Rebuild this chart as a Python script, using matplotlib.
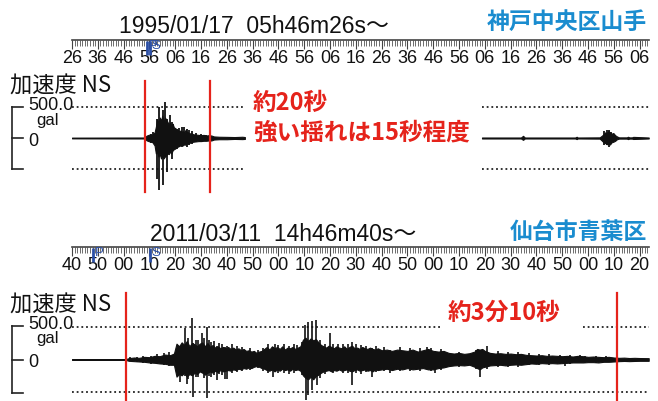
import numpy as np
import matplotlib as mpl
mpl.use('Agg')
import matplotlib.pyplot as plt
from matplotlib.ticker import FixedLocator, MultipleLocator
from matplotlib.lines import Line2D

plt.rcParams['font.family'] = ['Liberation Sans', 'Noto Sans CJK JP']

W, H = 658, 401

# ---- data (time in s from record start, acceleration in gal) ----
top_title = "1995/01/17  05h46m26s〜"
top_site = "神戸中央区山手"
top_labels = ['26', '36', '46', '56', '06', '16', '26', '36', '46', '56', '06', '16',
              '26', '36', '46', '56', '06', '16', '26', '36', '46', '56', '06']
top_p, top_s = 29.2, 30.2
top_marks = [28.1, 53.3]
top_note = ["約20秒", "強い揺れは15秒程度"]

top_t1 = [0, 28, 29, 30, 31, 32, 32.5, 33, 33.5, 34, 34.5, 35, 35.5, 36, 36.5, 37, 37.5, 38,
          38.5, 39, 39.5, 40, 40.5, 41, 41.5, 42, 42.5, 43, 43.5, 44, 44.5, 45, 45.5, 46, 47,
          48, 49, 50, 51, 52, 53, 54, 55, 57, 60, 63, 66, 67]
top_hi1 = [6, 8, 40, 55, 50, 90, 180, 300, 240, 330, 280, 360, 250, 330, 300, 260, 220, 250,
           200, 230, 170, 160, 140, 130, 110, 120, 100, 110, 90, 130, 100, 90, 70, 80, 60,
           55, 50, 45, 50, 40, 45, 40, 25, 20, 18, 15, 20, 15]
top_lo1 = [-6, -8, -40, -55, -60, -120, -250, -220, -300, -260, -330, -290, -330, -300, -280,
           -250, -260, -220, -250, -200, -180, -170, -150, -140, -130, -120, -110, -120, -100,
           -110, -90, -90, -80, -70, -60, -55, -50, -50, -45, -45, -40, -40, -25, -20, -20,
           -15, -18, -15]
top_t2 = [158.9, 174, 174.8, 175.5, 195, 195.6, 196, 204.5, 205.3, 206, 206.6, 207.2, 207.9,
          208.5, 209.1, 209.8, 210.5, 211.2, 212, 215, 215.5, 216, 217, 217.5, 223.5]
top_hi2 = [8, 8, 35, 8, 8, 20, 8, 10, 35, 60, 90, 80, 110, 90, 70, 80, 45, 25, 10, 10, 20, 10,
           10, 18, 8]
top_lo2 = [-8, -8, -30, -8, -8, -18, -8, -10, -40, -70, -80, -100, -95, -105, -70, -60, -45,
           -20, -10, -10, -18, -10, -10, -16, -8]
top_spk_t = [30.5, 31.5, 32.8, 33.9, 35.2, 36.1, 37.0, 38.0, 38.7, 39.3, 40.7, 41.5, 42.5,
             43.3, 44.6, 45.5, 46.5, 48.0, 50.0, 52.0, 53.5, 206.3, 207.5, 208.2, 209.0]
top_spk_hi = [70, 90, 312, 500, 446, 580, 300, 366, 250, 231, 150, 160, 170, 177, 150, 130,
              110, 80, 60, 55, 60, 110, 124, 130, 100]
top_spk_lo = [-80, -80, -656, -844, -763, -300, -548, -250, -333, -199, -172, -150, -140,
              -118, -150, -110, -90, -70, -60, -50, -55, -120, -118, -140, -90]

bot_title = "2011/03/11  14h46m40s〜"
bot_site = "仙台市青葉区"
bot_labels = ['40', '50', '00', '10', '20', '30', '40', '50', '00', '10', '20', '30',
              '40', '50', '00', '10', '20', '30', '40', '50', '00', '10', '20']
bot_p, bot_s = 8.3, 30.2
bot_marks = [20.8, 211.4]
bot_note = "約3分10秒"

bot_t = [0, 20.8, 22, 24, 26, 28, 30, 32, 34, 36, 38, 39.5, 40.5, 41.5, 42.5, 43.5, 44.5,
         45.5, 46.5, 47.5, 48.5, 49.5, 50.5, 51.5, 52.5, 53.5, 54.5, 55.5, 56.5, 57.5, 58.5,
         59.5, 60.5, 61.5, 62.5, 63.5, 64.5, 65.5, 66.5, 67.5, 68.5, 69.5, 70.5, 71.5, 72.5,
         73.5, 74.5, 75.5, 76.5, 77.5, 78.5, 79.5, 80.5, 81.5, 82.5, 83.5, 84.5, 85.5, 86.5,
         87.5, 88.5, 89.5, 90.5, 91.5, 92.5, 93.5, 94.5, 95.5, 96.5, 97.5, 98.5, 99.5, 100.5,
         101.5, 102.5, 103.5, 104.5, 105.5, 106.5, 107.5, 108.5, 109.5, 110.5, 111.5, 112.5,
         113.5, 114.5, 115.5, 116.5, 117.5, 118.5, 120, 122, 124, 126, 128, 130, 132, 134,
         136, 138, 140, 142, 144, 146, 148, 150, 152, 154, 156, 157, 158, 159, 160, 162, 164,
         166, 168, 170, 172, 174, 176, 178, 180, 182, 184, 186, 188, 190, 192, 194, 196, 198,
         200, 202, 204, 206, 208, 210, 212, 214, 216, 218, 220, 223.5]
bot_hi = [5, 6, 20, 30, 25, 40, 35, 55, 50, 75, 65, 90, 240, 200, 260, 220, 280, 200, 250,
          230, 200, 240, 260, 200, 250, 190, 220, 180, 200, 170, 190, 170, 190, 160, 180, 150,
          170, 140, 160, 130, 140, 120, 130, 100, 120, 130, 160, 190, 150, 200, 170, 190, 160,
          200, 150, 180, 170, 190, 160, 180, 200, 300, 330, 280, 320, 290, 310, 260, 220, 200,
          180, 210, 190, 170, 200, 180, 170, 200, 160, 190, 210, 170, 180, 160, 190, 170, 160,
          180, 160, 150, 170, 140, 150, 130, 150, 140, 130, 150, 120, 140, 160, 130, 120, 130,
          100, 90, 100, 85, 95, 120, 160, 150, 160, 130, 100, 90, 95, 85, 90, 80, 85, 70, 65,
          60, 65, 55, 60, 55, 50, 55, 45, 55, 50, 40, 45, 40, 35, 40, 30, 25, 28, 22, 25, 22,
          20]
bot_lo = [-5, -6, -20, -25, -30, -35, -45, -50, -60, -65, -80, -80, -260, -220, -240, -200,
          -260, -220, -240, -200, -220, -180, -200, -230, -200, -180, -200, -170, -190, -160,
          -180, -170, -160, -170, -150, -160, -140, -150, -130, -140, -120, -130, -110, -100,
          -110, -130, -140, -160, -170, -150, -180, -150, -170, -140, -160, -150, -170, -140,
          -160, -150, -170, -240, -280, -300, -260, -300, -250, -230, -200, -180, -170, -160,
          -180, -160, -170, -150, -170, -160, -150, -170, -180, -160, -150, -170, -160, -150,
          -170, -160, -180, -150, -160, -150, -140, -160, -140, -150, -130, -150, -140, -130,
          -150, -150, -130, -120, -100, -90, -85, -90, -80, -110, -130, -150, -120, -110, -90,
          -85, -80, -90, -80, -75, -80, -70, -60, -65, -55, -60, -55, -60, -55, -50, -45, -45,
          -45, -40, -40, -45, -35, -35, -30, -25, -22, -25, -22, -20, -20]
bot_spk_t = [22.5, 25.0, 27.5, 30.5, 33.0, 35.5, 37.5, 41.9, 43.8, 44.5, 45.0, 46.4, 47.0,
             48.0, 49.0, 50.3, 51.0, 52.2, 53.0, 54.0, 55.0, 56.1, 57.0, 58.0, 59.3, 60.0,
             62.0, 64.0, 66.0, 69.0, 72.0, 74.0, 76.0, 78.0, 78.7, 80.0, 82.0, 84.0, 86.0,
             87.1, 89.0, 90.3, 90.7, 91.6, 92.9, 93.1, 94.5, 94.8, 96.0, 98.0, 100.0, 101.0,
             103.2, 105.0, 107.0, 108.4, 110.0, 112.0, 114.0, 116.2, 118.0, 121.0, 123.3,
             127.0, 131.0, 135.0, 137.5, 139.0, 140.7, 143.0, 150.0, 156.5, 158.1, 161.0,
             165.0, 169.0, 173.0, 177.0, 181.0, 185.0, 189.0, 191.1, 193.0, 196.9, 199.0,
             203.0, 207.0]
bot_spk_hi = [35, 45, 55, 60, 80, 100, 110, 200, 470, 250, 330, 630, 250, 300, 290, 394, 320,
              495, 300, 260, 280, 200, 250, 230, 190, 200, 230, 210, 190, 170, 150, 180, 230,
              190, 242, 220, 240, 210, 230, 220, 260, 520, 300, 570, 586, 300, 596, 250, 290,
              230, 394, 240, 240, 240, 230, 268, 230, 220, 210, 180, 200, 190, 140, 190, 180,
              170, 192, 170, 130, 160, 120, 150, 150, 200, 130, 120, 115, 100, 90, 80, 75, 55,
              70, 68, 60, 55, 50]
bot_spk_lo = [-30, -45, -50, -65, -70, -90, -100, -340, -250, -364, -290, -200, -565, -270,
              -260, -200, -280, -590, -250, -260, -230, -315, -220, -230, -300, -300, -200,
              -190, -180, -160, -130, -170, -200, -262, -160, -210, -200, -220, -200, -160,
              -230, -250, -616, -540, -260, -465, -250, -390, -280, -220, -170, -210, -170,
              -210, -200, -390, -200, -220, -190, -262, -190, -180, -200, -180, -170, -170,
              -150, -180, -212, -160, -120, -140, -262, -150, -120, -110, -110, -90, -80, -80,
              -75, -106, -65, -45, -55, -50, -45]

# ---- layout ----
X0, X1 = 72, 648.7
TMAX = 223.5
RED = '#e5231b'
BLUE = '#1a8ccf'
PSBLUE = '#2b4fa6'
INK = '#111111'


def fx(x):
    return x / W


def fy(y):
    return 1 - y / H


fig = plt.figure(figsize=(W / 100, H / 100), dpi=100)


def ruler(y_line, labels, p_t, s_t, title, title_x, title_y, site, site_y):
    ax = fig.add_axes([fx(X0), fy(y_line), (X1 - X0) / W, 8 / H])
    ax.set_xlim(0, TMAX)
    ax.set_ylim(0, 1)
    ax.patch.set_visible(False)
    for s in ['top', 'left', 'right']:
        ax.spines[s].set_visible(False)
    ax.spines['bottom'].set_color('#444444')
    ax.spines['bottom'].set_linewidth(1.2)
    ax.set_yticks([])
    ax.xaxis.set_major_locator(FixedLocator(np.arange(len(labels)) * 10))
    ax.set_xticklabels(labels)
    ax.xaxis.set_minor_locator(MultipleLocator(1))
    ax.tick_params(axis='x', which='major', length=6.5, width=0.8, color='#444444',
                   labelsize=13, pad=1, labelcolor='#111111')
    ax.tick_params(axis='x', which='minor', length=4, width=0.6, color='#555555')
    tr = ax.get_xaxis_transform()
    for t, lab in [(p_t, 'P'), (s_t, 'S')]:
        ax.vlines(t, -0.15, -1.9, transform=tr, color=PSBLUE, lw=2, clip_on=False, zorder=4)
        ax.text(t + 0.7, -0.75, lab, transform=tr, color=PSBLUE, fontsize=9.5,
                ha='left', va='center', clip_on=False, zorder=5)
    fig.text(fx(title_x), fy(title_y), title, fontsize=16.5, color='#111111',
             ha='left', va='baseline')
    fig.text(fx(647), fy(site_y), site, fontsize=16.5, color=BLUE, fontweight='bold',
             family=['Noto Sans CJK JP'], ha='right', va='center')
    return ax


def scale_labels(y_top, y_zero, y_bot, y_head):
    fig.text(fx(10), fy(y_head), "加速度 NS", fontsize=16, color='#111111',
             family=['Noto Sans CJK JP'], ha='left', va='center')
    fig.add_artist(Line2D([fx(11.7), fx(11.7)], [fy(y_top), fy(y_bot)], color='#222222', lw=1.2))
    for y in (y_top, y_zero, y_bot):
        fig.add_artist(Line2D([fx(11.7), fx(23)], [fy(y), fy(y)], color='#222222', lw=1.2))
    fig.text(fx(28), fy(y_top - 1), "500.0", fontsize=13, color='#111111', ha='left', va='center')
    fig.text(fx(36), fy(y_top + 13), "gal", fontsize=12, color='#111111', ha='left', va='center')
    fig.text(fx(28), fy(y_zero + 3), "0", fontsize=13, color='#111111', ha='left', va='center')


def trace_axes(y_top, y_bot, lo, hi):
    ax = fig.add_axes([fx(X0), fy(y_bot), (X1 - X0) / W, (y_bot - y_top) / H])
    ax.set_xlim(0, TMAX)
    ax.set_ylim(lo, hi)
    ax.axis('off')
    return ax


dots = dict(color='#222222', lw=1.3, linestyle=(0, (1, 1.6)))

# ---- 1995 Kobe ----
ruler(40, top_labels, top_p, top_s, top_title, 119, 33, top_site, 22)
scale_labels(107, 138, 169, 86)
ax1 = trace_axes(75, 200, -1000, 1016)
for a, b in [(0, 67), (158.9, TMAX)]:
    ax1.hlines([500, -500], a, b, **dots)
ax1.fill_between(top_t1, top_lo1, top_hi1, color=INK, lw=0.8)
ax1.fill_between(top_t2, top_lo2, top_hi2, color=INK, lw=0.8)
ax1.vlines(top_spk_t, top_spk_lo, top_spk_hi, color=INK, lw=1.3)
for t in top_marks:
    ax1.axvline(t, ymin=(200 - 192) / 125, ymax=(200 - 81) / 125, color=RED, lw=1.6)
fig.text(fx(253), fy(103), top_note[0], fontsize=17, color=RED, fontweight='bold',
         family=['Noto Sans CJK JP'], ha='left', va='center')
fig.text(fx(253), fy(132), top_note[1], fontsize=17, color=RED, fontweight='bold',
         family=['Noto Sans CJK JP'], ha='left', va='center')

# ---- 2011 Tohoku ----
ruler(247, bot_labels, bot_p, bot_s, bot_title, 150, 241, bot_site, 232)
scale_labels(325.5, 359.5, 393, 305)
ax2 = trace_axes(285, 401, -629, 1129)
ax2.hlines(500, 0, 142.6, **dots)
ax2.hlines(500, 198, TMAX, **dots)
ax2.hlines(-500, 0, TMAX, **dots)
ax2.fill_between(bot_t, bot_lo, bot_hi, color=INK, lw=0.8)
ax2.vlines(bot_spk_t, bot_spk_lo, bot_spk_hi, color=INK, lw=1.2)
for t in bot_marks:
    ax2.axvline(t, ymin=0, ymax=(401 - 293) / 116, color=RED, lw=1.6)
fig.text(fx(448), fy(313), bot_note, fontsize=17, color=RED, fontweight='bold',
         family=['Noto Sans CJK JP'], ha='left', va='center')

fig.savefig('out.png', dpi=100)
